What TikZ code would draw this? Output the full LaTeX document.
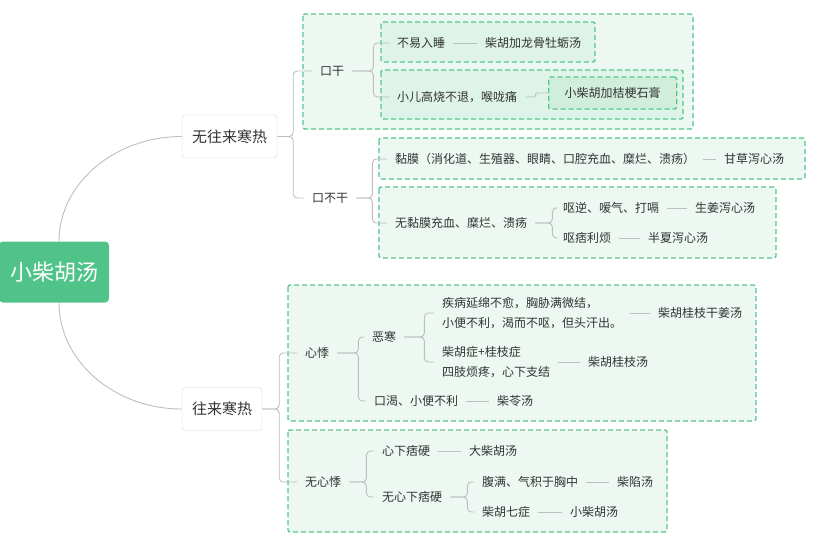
\documentclass[tikz,border=0pt]{standalone}
\usepackage{fontspec}
\setmainfont{Noto Sans CJK SC}
\definecolor{grn}{RGB}{84,198,140}
\definecolor{rootc}{RGB}{80,195,137}
\definecolor{fillA}{RGB}{236,248,241}
\definecolor{fillB}{RGB}{223,244,232}
\definecolor{fillC}{RGB}{209,238,221}
\definecolor{linec}{RGB}{190,190,190}
\definecolor{boxc}{RGB}{215,215,215}
\definecolor{txtc}{RGB}{51,51,51}

\begin{document}
\begin{tikzpicture}[x=1pt,y=-1pt]
\useasboundingbox (0,0) rectangle (813,550);

\tikzset{vertex/.style = {anchor=west,inner xsep=8pt,inner ysep=2pt,text=txtc,font=\fontsize{12}{20}\selectfont,align=left}}
\tikzset{vertex2/.style = {draw=boxc,fill=white,rounded corners=3pt,text=txtc,minimum height=43pt,inner xsep=10pt,font=\fontsize{15}{15}\selectfont}}
\tikzset{vertex3/.style = {fill=rootc,rounded corners=4pt,text=white,minimum width=110pt,minimum height=61pt,font=\fontsize{22}{22}\selectfont}}
\tikzset{vertex4/.style = {anchor=west,draw=grn,fill=fillC,dash pattern=on 5pt off 3pt,line width=1.3pt,rounded corners=2pt,text=txtc,inner xsep=16pt,minimum height=32pt,font=\fontsize{12}{12}\selectfont}}
\tikzset{cluster/.style = {draw=grn,dash pattern=on 5pt off 3pt,line width=1.3pt,rounded corners=2pt}}
\tikzset{edge/.style = {draw=linec,line width=0.9pt,rounded corners=4pt}}
% groups
\draw[cluster,fill=fillA] (303,14) rectangle (693,129);
\draw[cluster,fill=fillB] (381,22) rectangle (595,62);
\draw[cluster,fill=fillB] (381,70) rectangle (683,119);
\draw[cluster,fill=fillA] (379,138) rectangle (805,179);
\draw[cluster,fill=fillA] (379,187) rectangle (776,258);
\draw[cluster,fill=fillA] (288,285) rectangle (756,421);
\draw[cluster,fill=fillA] (288,430) rectangle (667,532);
% vertices
\node[vertex3] (0) at (54,272) {小柴胡汤};
\node[vertex2] (1) at (229.5,136.5) {无往来寒热};
\node[vertex2] (2) at (222,409) {往来寒热};
\node[vertex] (11) at (312,71) {口干};
\node[vertex] (12) at (304,198) {口不干};
\node[vertex] (111) at (389,43) {不易入睡};
\node[vertex] (1111) at (477,43) {柴胡加龙骨牡蛎汤};
\node[vertex] (112) at (389,97) {小儿高烧不退，喉咙痛};
\node[vertex4] (1121) at (548,93) {小柴胡加桔梗石膏};
\node[vertex] (121) at (387,159) {黏膜（消化道、生殖器、眼睛、口腔充血、糜烂、溃疡）};
\node[vertex] (1211) at (716,159) {甘草泻心汤};
\node[vertex] (122) at (387,223) {无黏膜充血、糜烂、溃疡};
\node[vertex] (1221) at (555,208) {呕逆、嗳气、打嗝};
\node[vertex] (12211) at (687,208) {生姜泻心汤};
\node[vertex] (1222) at (555,238) {呕痞利烦};
\node[vertex] (12221) at (640,238) {半夏泻心汤};
\node[vertex] (21) at (297,353) {心悸};
\node[vertex] (22) at (297,482) {无心悸};
\node[vertex] (211) at (364,337) {恶寒};
\node[vertex] (2111) at (434,313) {疾病延绵不愈，胸胁满微结，\\小便不利，渴而不呕，但头汗出。};
\node[vertex] (21111) at (650,313) {柴胡桂枝干姜汤};
\node[vertex] (2112) at (434,362) {柴胡症+桂枝症\\四肢烦疼，心下支结};
\node[vertex] (21121) at (580,362) {柴胡桂枝汤};
\node[vertex] (212) at (366,401) {口渴、小便不利};
\node[vertex] (2121) at (489,401) {柴苓汤};
\node[vertex] (221) at (374,451) {心下痞硬};
\node[vertex] (2211) at (461,451) {大柴胡汤};
\node[vertex] (222) at (374,497) {无心下痞硬};
\node[vertex] (2221) at (474,482) {腹满、气积于胸中};
\node[vertex] (22211) at (609,482) {柴陷汤};
\node[vertex] (2222) at (474,512) {柴胡七症};
\node[vertex] (22221) at (562,512) {小柴胡汤};
%edges
\draw[edge] ([xshift=5pt]0.north) .. controls (59,184) and (114,136.5) .. (1.west);
\draw[edge] ([xshift=5pt]0.south) .. controls (59,361) and (114,409) .. (2.west);
\draw[edge] (1.east) -- ++(16,0) |- (11.west);
\draw[edge] (1.east) -- ++(16,0) |- (12.west);
\draw[edge] (11.east) -- ++(21,0) |- (111.west);
\draw[edge] (11.east) -- ++(21,0) |- (112.west);
\draw[edge] (111) -- (1111);
\draw[edge,rounded corners=2pt] (112.east) -- ++(10,0) |- (1121.west);
\draw[edge] (12.east) -- ++(16,0) |- (121.west);
\draw[edge] (12.east) -- ++(16,0) |- (122.west);
\draw[edge] (121) -- (1211);
\draw[edge] (122.east) -- ++(17,0) |- (1221.west);
\draw[edge] (122.east) -- ++(17,0) |- (1222.west);
\draw[edge] (1221) -- (12211);
\draw[edge] (1222) -- (12221);
\draw[edge] (2.east) -- ++(17,0) |- (21.west);
\draw[edge] (2.east) -- ++(17,0) |- (22.west);
\draw[edge] (21.east) -- ++(21,0) |- (211.west);
\draw[edge] (21.east) -- ++(21,0) |- (212.west);
\draw[edge] (211.east) -- ++(20,0) |- (2111.west);
\draw[edge] (211.east) -- ++(20,0) |- (2112.west);
\draw[edge] (2111) -- (21111);
\draw[edge] (2112) -- (21121);
\draw[edge] (212) -- (2121);
\draw[edge] (22.east) -- ++(17,0) |- (221.west);
\draw[edge] (22.east) -- ++(17,0) |- (222.west);
\draw[edge] (221) -- (2211);
\draw[edge] (222.east) -- ++(17,0) |- (2221.west);
\draw[edge] (222.east) -- ++(17,0) |- (2222.west);
\draw[edge] (2221) -- (22211);
\draw[edge] (2222) -- (22221);
\end{tikzpicture}
\end{document}
